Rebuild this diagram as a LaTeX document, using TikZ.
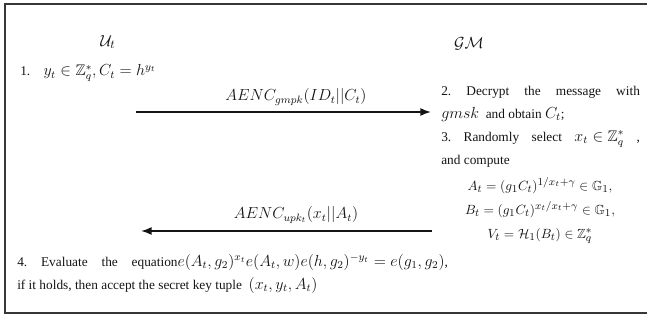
\documentclass[tikz,border=0pt]{standalone}
\usepackage{fontspec}
\setmainfont{Liberation Serif}
\usepackage{amssymb}
\DeclareMathSizes{10}{11.5}{8.5}{6.5}
\DeclareMathSizes{8.5}{9.9}{7.6}{6}
\usetikzlibrary{arrows.meta}
\frenchspacing
\definecolor{GjInk}{RGB}{20,20,20}
\definecolor{GjFrame}{RGB}{55,55,55}
\tikzset{
  gj/frame/.style={draw=GjFrame, line width=1.8pt},
  gj/party/.style={text=GjInk, inner sep=0pt, font=\fontsize{13}{15}\selectfont},
  gj/text/.style={text=GjInk, inner sep=0pt, align=left, font=\fontsize{10}{17.25}\selectfont},
  gj/just/.style={gj/text, text width=149pt, align=justify},
  gj/eq/.style={gj/text, align=center, font=\fontsize{8.5}{18}\selectfont},
  gj/msg/.style={text=GjInk, inner sep=0pt, font=\fontsize{11.5}{14}\selectfont},
  gj/arrow/.style={-{Latex[length=8pt,width=6pt]}, very thick, draw=GjInk}
}
\begin{document}
\begin{tikzpicture}[x=0.75pt,y=-0.75pt]
  \useasboundingbox (0,0) rectangle (647,320);
  \draw[gj/frame] (647,4) -- (5,4) -- (5,313) -- (647,313);

  \node[gj/party] (user) at (108,42) {$\mathcal{U}_t$};
  \node[gj/party] (gm) at (469,44) {$\mathcal{GM}$};

  \node[gj/text,anchor=base west] (step1) at (20,76) {1.\quad $y_t\in\mathbb{Z}_q^*, C_t = h^{y_t}$};

  \coordinate (req-from) at (136,112);
  \coordinate (req-to) at (431,112);
  \node[gj/msg] (req) at (296,97) {$AENC_{gmpk}(ID_t||C_t)$};
  \draw[gj/arrow] (req-from) -- (req-to);

  \node[gj/just,anchor=north west] (step23) at (441,86)
    {2. Decrypt the message with\linebreak $gmsk$ \ and obtain $C_t$;\\
     3. Randomly select ${x_t\in\mathbb{Z}_q^*}$ ,\linebreak and compute};
  \node[gj/eq,anchor=north] (keys) at (540,177)
    {$A_t=(g_1C_t)^{1/x_t+\gamma}\in\mathbb{G}_1,$\\
     $B_t=(g_1C_t)^{x_t/x_t+\gamma}\in\mathbb{G}_1,$\\
     $V_t=\mathcal{H}_1(B_t)\in\mathbb{Z}_q^*$};

  \coordinate (resp-from) at (432,231);
  \coordinate (resp-to) at (141,231);
  \node[gj/msg] (resp) at (296,215) {$AENC_{upk_t}(x_t||A_t)$};
  \draw[gj/arrow] (resp-from) -- (resp-to);

  \node[gj/text,text width=323pt,align=justify,anchor=north west] (step4) at (17,254)
    {4. Evaluate the equation${e(A_t,g_2)^{x_t}e(A_t,w)e(h,g_2)^{-y_t}=e(g_1,g_2)}$,\linebreak
     if it holds, then accept the secret key tuple \ $(x_t,y_t,A_t)$};
\end{tikzpicture}
\end{document}
